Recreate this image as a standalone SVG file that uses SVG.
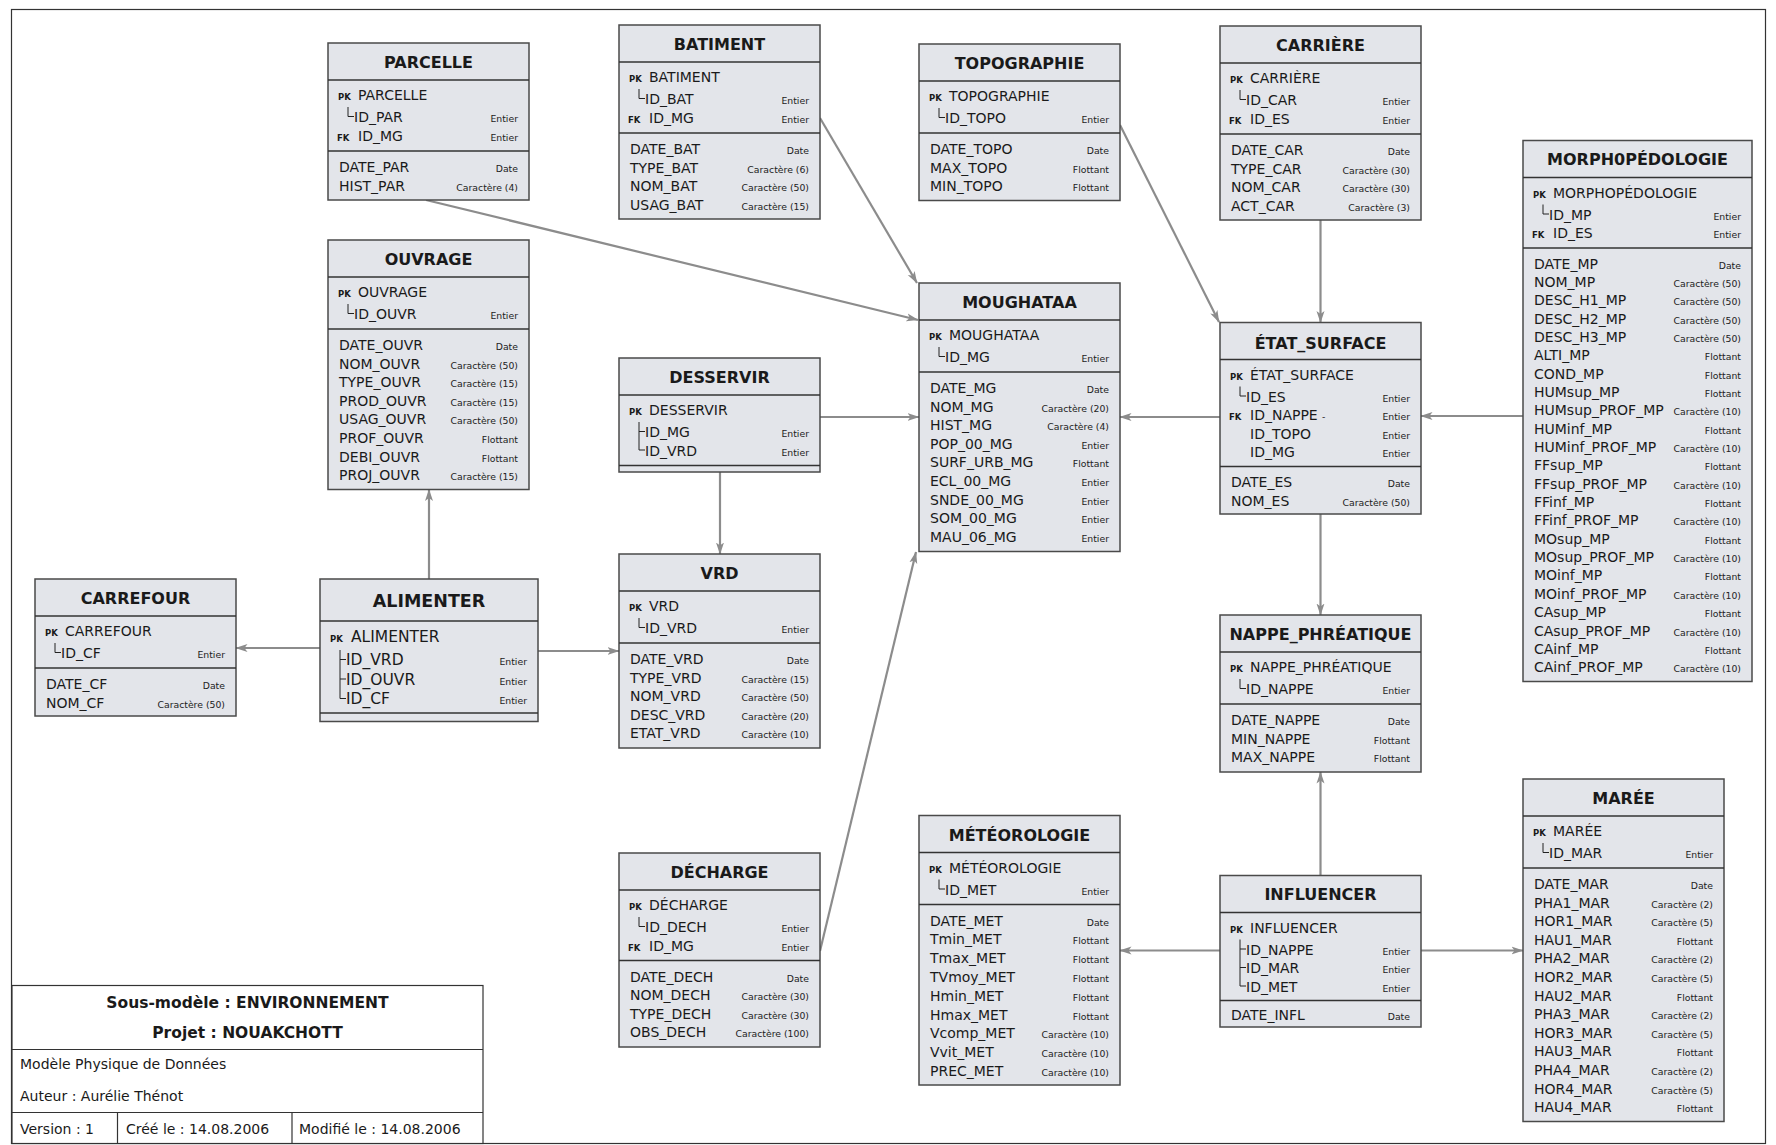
<svg xmlns="http://www.w3.org/2000/svg" width="1776" height="1145" viewBox="0 0 1776 1145">
<defs>
<style>
.bx{fill:#e3e5ea;stroke:#4a4a4a;stroke-width:1.5}
.sp{stroke:#333;stroke-width:1.5}
.tr{stroke:#222;stroke-width:1;fill:none}
text{font-family:"DejaVu Sans","Liberation Sans",sans-serif;fill:#1a1a1a}
.ti{font-size:16px;font-weight:bold;text-anchor:middle}
.nm{font-size:14px}
.ty{font-size:9.3px;text-anchor:end;fill:#222}
.pk{font-size:8.5px;font-weight:bold}
.big{font-size:15.5px}
.tb{font-size:14px}
.tbb{font-size:15.5px;font-weight:bold;text-anchor:middle}
.c{stroke:#8c8c8c;stroke-width:2.2;fill:none;marker-end:url(#arr)}
.fr{fill:none;stroke:#333;stroke-width:1.2}
</style>
<marker id="arr" viewBox="0 0 12 10" refX="11.5" refY="5" markerWidth="12" markerHeight="10" markerUnits="userSpaceOnUse" orient="auto">
<path d="M0,1 L12,5 L0,9 L3,5 Z" fill="#8c8c8c"/>
</marker>
</defs>
<rect x="0" y="0" width="1776" height="1145" fill="#fff"/>
<rect class="fr" x="11.5" y="9.5" width="1754" height="1134"/>

<g id="connectors">
<line class="c" x1="426" y1="200" x2="918" y2="320"/>
<line class="c" x1="820" y1="118" x2="917" y2="283"/>
<line class="c" x1="1120" y1="125" x2="1219" y2="322"/>
<line class="c" x1="1320.5" y1="220" x2="1320.5" y2="322.5"/>
<line class="c" x1="1220" y1="417" x2="1120" y2="417"/>
<line class="c" x1="1523" y1="416" x2="1421" y2="416"/>
<line class="c" x1="820" y1="417" x2="919" y2="417"/>
<line class="c" x1="720" y1="472" x2="720" y2="554"/>
<line class="c" x1="429" y1="579" x2="429" y2="489.5"/>
<line class="c" x1="320" y1="648" x2="236" y2="648"/>
<line class="c" x1="538" y1="651" x2="619" y2="651"/>
<line class="c" x1="820" y1="951" x2="916" y2="552"/>
<line class="c" x1="1320.5" y1="514" x2="1320.5" y2="615"/>
<line class="c" x1="1320.5" y1="875.5" x2="1320.5" y2="772"/>
<line class="c" x1="1220" y1="950.5" x2="1120" y2="950.5"/>
<line class="c" x1="1421" y1="950.5" x2="1523" y2="950.5"/>
</g>

<g id="parcelle">
<rect class="bx" x="328" y="43" width="201" height="157"/>
<line class="sp" x1="328" y1="80" x2="529" y2="80"/>
<line class="sp" x1="328" y1="151" x2="529" y2="151"/>
<text class="ti" x="428.5" y="67.5">PARCELLE</text>
<text class="pk" x="338" y="100">PK</text><text class="nm" x="358" y="100">PARCELLE</text>
<path class="tr" d="M348,107 V116.5 H354"/>
<text class="nm" x="354" y="122">ID_PAR</text><text class="ty" x="518" y="122">Entier</text>
<text class="pk" x="337" y="141">FK</text><text class="nm" x="358" y="141">ID_MG</text><text class="ty" x="518" y="141">Entier</text>
<text class="nm" x="339" y="172">DATE_PAR</text><text class="ty" x="518" y="172">Date</text>
<text class="nm" x="339" y="190.5">HIST_PAR</text><text class="ty" x="518" y="190.5">Caractère (4)</text>
</g>

<g id="batiment">
<rect class="bx" x="619" y="25" width="201" height="194"/>
<line class="sp" x1="619" y1="62" x2="820" y2="62"/>
<line class="sp" x1="619" y1="133" x2="820" y2="133"/>
<text class="ti" x="719.5" y="49.5">BATIMENT</text>
<text class="pk" x="629" y="82">PK</text><text class="nm" x="649" y="82">BATIMENT</text>
<path class="tr" d="M639,89 V98.5 H645"/>
<text class="nm" x="645" y="104">ID_BAT</text><text class="ty" x="809" y="104">Entier</text>
<text class="pk" x="628" y="123">FK</text><text class="nm" x="649" y="123">ID_MG</text><text class="ty" x="809" y="123">Entier</text>
<text class="nm" x="630" y="154">DATE_BAT</text><text class="ty" x="809" y="154">Date</text>
<text class="nm" x="630" y="172.5">TYPE_BAT</text><text class="ty" x="809" y="172.5">Caractère (6)</text>
<text class="nm" x="630" y="191">NOM_BAT</text><text class="ty" x="809" y="191">Caractère (50)</text>
<text class="nm" x="630" y="209.5">USAG_BAT</text><text class="ty" x="809" y="209.5">Caractère (15)</text>
</g>

<g id="topographie">
<rect class="bx" x="919" y="44" width="201" height="156.5"/>
<line class="sp" x1="919" y1="81" x2="1120" y2="81"/>
<line class="sp" x1="919" y1="133" x2="1120" y2="133"/>
<text class="ti" x="1019.5" y="68.5">TOPOGRAPHIE</text>
<text class="pk" x="929" y="101">PK</text><text class="nm" x="949" y="101">TOPOGRAPHIE</text>
<path class="tr" d="M939,108 V117.5 H945"/>
<text class="nm" x="945" y="123">ID_TOPO</text><text class="ty" x="1109" y="123">Entier</text>
<text class="nm" x="930" y="154">DATE_TOPO</text><text class="ty" x="1109" y="154">Date</text>
<text class="nm" x="930" y="172.5">MAX_TOPO</text><text class="ty" x="1109" y="172.5">Flottant</text>
<text class="nm" x="930" y="191">MIN_TOPO</text><text class="ty" x="1109" y="191">Flottant</text>
</g>

<g id="carriere">
<rect class="bx" x="1220" y="26" width="201" height="194"/>
<line class="sp" x1="1220" y1="63" x2="1421" y2="63"/>
<line class="sp" x1="1220" y1="134" x2="1421" y2="134"/>
<text class="ti" x="1320.5" y="51">CARRIÈRE</text>
<text class="pk" x="1230" y="83">PK</text><text class="nm" x="1250" y="83">CARRIÈRE</text>
<path class="tr" d="M1240,90 V99.5 H1246"/>
<text class="nm" x="1246" y="105">ID_CAR</text><text class="ty" x="1410" y="105">Entier</text>
<text class="pk" x="1229" y="124">FK</text><text class="nm" x="1250" y="124">ID_ES</text><text class="ty" x="1410" y="124">Entier</text>
<text class="nm" x="1231" y="155">DATE_CAR</text><text class="ty" x="1410" y="155">Date</text>
<text class="nm" x="1231" y="173.5">TYPE_CAR</text><text class="ty" x="1410" y="173.5">Caractère (30)</text>
<text class="nm" x="1231" y="192">NOM_CAR</text><text class="ty" x="1410" y="192">Caractère (30)</text>
<text class="nm" x="1231" y="210.5">ACT_CAR</text><text class="ty" x="1410" y="210.5">Caractère (3)</text>
</g>

<g id="ouvrage">
<rect class="bx" x="328" y="240" width="201" height="249.5"/>
<line class="sp" x1="328" y1="277" x2="529" y2="277"/>
<line class="sp" x1="328" y1="329" x2="529" y2="329"/>
<text class="ti" x="428.5" y="264.5">OUVRAGE</text>
<text class="pk" x="338" y="297">PK</text><text class="nm" x="358" y="297">OUVRAGE</text>
<path class="tr" d="M348,304 V313.5 H354"/>
<text class="nm" x="354" y="319">ID_OUVR</text><text class="ty" x="518" y="319">Entier</text>
<text class="nm" x="339" y="350">DATE_OUVR</text><text class="ty" x="518" y="350">Date</text>
<text class="nm" x="339" y="368.6">NOM_OUVR</text><text class="ty" x="518" y="368.6">Caractère (50)</text>
<text class="nm" x="339" y="387.2">TYPE_OUVR</text><text class="ty" x="518" y="387.2">Caractère (15)</text>
<text class="nm" x="339" y="405.8">PROD_OUVR</text><text class="ty" x="518" y="405.8">Caractère (15)</text>
<text class="nm" x="339" y="424.4">USAG_OUVR</text><text class="ty" x="518" y="424.4">Caractère (50)</text>
<text class="nm" x="339" y="443">PROF_OUVR</text><text class="ty" x="518" y="443">Flottant</text>
<text class="nm" x="339" y="461.6">DEBI_OUVR</text><text class="ty" x="518" y="461.6">Flottant</text>
<text class="nm" x="339" y="480.2">PROJ_OUVR</text><text class="ty" x="518" y="480.2">Caractère (15)</text>
</g>

<g id="desservir">
<rect class="bx" x="619" y="358" width="201" height="114"/>
<line class="sp" x1="619" y1="395" x2="820" y2="395"/>
<line class="sp" x1="619" y1="465.5" x2="820" y2="465.5"/>
<text class="ti" x="719.5" y="382.5">DESSERVIR</text>
<text class="pk" x="629" y="415">PK</text><text class="nm" x="649" y="415">DESSERVIR</text>
<path class="tr" d="M639,422 V450 H645 M639,431.5 H645"/>
<text class="nm" x="645" y="437">ID_MG</text><text class="ty" x="809" y="437">Entier</text>
<text class="nm" x="645" y="455.5">ID_VRD</text><text class="ty" x="809" y="455.5">Entier</text>
</g>

<g id="moughataa">
<rect class="bx" x="919" y="283" width="201" height="268.5"/>
<line class="sp" x1="919" y1="320" x2="1120" y2="320"/>
<line class="sp" x1="919" y1="372" x2="1120" y2="372"/>
<text class="ti" x="1019.5" y="307.5">MOUGHATAA</text>
<text class="pk" x="929" y="340">PK</text><text class="nm" x="949" y="340">MOUGHATAA</text>
<path class="tr" d="M939,347 V356.5 H945"/>
<text class="nm" x="945" y="362">ID_MG</text><text class="ty" x="1109" y="362">Entier</text>
<text class="nm" x="930" y="393">DATE_MG</text><text class="ty" x="1109" y="393">Date</text>
<text class="nm" x="930" y="411.6">NOM_MG</text><text class="ty" x="1109" y="411.6">Caractère (20)</text>
<text class="nm" x="930" y="430.2">HIST_MG</text><text class="ty" x="1109" y="430.2">Caractère (4)</text>
<text class="nm" x="930" y="448.8">POP_00_MG</text><text class="ty" x="1109" y="448.8">Entier</text>
<text class="nm" x="930" y="467.4">SURF_URB_MG</text><text class="ty" x="1109" y="467.4">Flottant</text>
<text class="nm" x="930" y="486">ECL_00_MG</text><text class="ty" x="1109" y="486">Entier</text>
<text class="nm" x="930" y="504.6">SNDE_00_MG</text><text class="ty" x="1109" y="504.6">Entier</text>
<text class="nm" x="930" y="523.2">SOM_00_MG</text><text class="ty" x="1109" y="523.2">Entier</text>
<text class="nm" x="930" y="541.8">MAU_06_MG</text><text class="ty" x="1109" y="541.8">Entier</text>
</g>

<g id="etat_surface">
<rect class="bx" x="1220" y="322.5" width="201" height="191.5"/>
<line class="sp" x1="1220" y1="359.5" x2="1421" y2="359.5"/>
<line class="sp" x1="1220" y1="466.5" x2="1421" y2="466.5"/>
<text class="ti" x="1320.5" y="349">ÉTAT_SURFACE</text>
<text class="pk" x="1230" y="379.5">PK</text><text class="nm" x="1250" y="379.5">ÉTAT_SURFACE</text>
<path class="tr" d="M1240,386.5 V396 H1246"/>
<text class="nm" x="1246" y="401.5">ID_ES</text><text class="ty" x="1410" y="401.5">Entier</text>
<text class="pk" x="1229" y="420">FK</text><text class="nm" x="1250" y="420">ID_NAPPE</text><text class="ty" x="1322" y="420" style="text-anchor:start">-</text><text class="ty" x="1410" y="420">Entier</text>
<text class="nm" x="1250" y="438.5">ID_TOPO</text><text class="ty" x="1410" y="438.5">Entier</text>
<text class="nm" x="1250" y="457">ID_MG</text><text class="ty" x="1410" y="457">Entier</text>
<text class="nm" x="1231" y="487">DATE_ES</text><text class="ty" x="1410" y="487">Date</text>
<text class="nm" x="1231" y="505.5">NOM_ES</text><text class="ty" x="1410" y="505.5">Caractère (50)</text>
</g>

<g id="morphopedologie">
<rect class="bx" x="1523" y="140.5" width="229" height="541"/>
<line class="sp" x1="1523" y1="177.5" x2="1752" y2="177.5"/>
<line class="sp" x1="1523" y1="248" x2="1752" y2="248"/>
<text class="ti" x="1637.5" y="165">MORPH0PÉDOLOGIE</text>
<text class="pk" x="1533" y="197.5">PK</text><text class="nm" x="1553" y="197.5">MORPHOPÉDOLOGIE</text>
<path class="tr" d="M1543,204.5 V214 H1549"/>
<text class="nm" x="1549" y="219.5">ID_MP</text><text class="ty" x="1741" y="219.5">Entier</text>
<text class="pk" x="1532" y="238">FK</text><text class="nm" x="1553" y="238">ID_ES</text><text class="ty" x="1741" y="238">Entier</text>
<text class="nm" x="1534" y="268.5">DATE_MP</text><text class="ty" x="1741" y="268.5">Date</text>
<text class="nm" x="1534" y="286.85">NOM_MP</text><text class="ty" x="1741" y="286.85">Caractère (50)</text>
<text class="nm" x="1534" y="305.2">DESC_H1_MP</text><text class="ty" x="1741" y="305.2">Caractère (50)</text>
<text class="nm" x="1534" y="323.55">DESC_H2_MP</text><text class="ty" x="1741" y="323.55">Caractère (50)</text>
<text class="nm" x="1534" y="341.9">DESC_H3_MP</text><text class="ty" x="1741" y="341.9">Caractère (50)</text>
<text class="nm" x="1534" y="360.25">ALTI_MP</text><text class="ty" x="1741" y="360.25">Flottant</text>
<text class="nm" x="1534" y="378.6">COND_MP</text><text class="ty" x="1741" y="378.6">Flottant</text>
<text class="nm" x="1534" y="396.95">HUMsup_MP</text><text class="ty" x="1741" y="396.95">Flottant</text>
<text class="nm" x="1534" y="415.3">HUMsup_PROF_MP</text><text class="ty" x="1741" y="415.3">Caractère (10)</text>
<text class="nm" x="1534" y="433.65">HUMinf_MP</text><text class="ty" x="1741" y="433.65">Flottant</text>
<text class="nm" x="1534" y="452">HUMinf_PROF_MP</text><text class="ty" x="1741" y="452">Caractère (10)</text>
<text class="nm" x="1534" y="470.35">FFsup_MP</text><text class="ty" x="1741" y="470.35">Flottant</text>
<text class="nm" x="1534" y="488.7">FFsup_PROF_MP</text><text class="ty" x="1741" y="488.7">Caractère (10)</text>
<text class="nm" x="1534" y="507.05">FFinf_MP</text><text class="ty" x="1741" y="507.05">Flottant</text>
<text class="nm" x="1534" y="525.4">FFinf_PROF_MP</text><text class="ty" x="1741" y="525.4">Caractère (10)</text>
<text class="nm" x="1534" y="543.75">MOsup_MP</text><text class="ty" x="1741" y="543.75">Flottant</text>
<text class="nm" x="1534" y="562.1">MOsup_PROF_MP</text><text class="ty" x="1741" y="562.1">Caractère (10)</text>
<text class="nm" x="1534" y="580.45">MOinf_MP</text><text class="ty" x="1741" y="580.45">Flottant</text>
<text class="nm" x="1534" y="598.8">MOinf_PROF_MP</text><text class="ty" x="1741" y="598.8">Caractère (10)</text>
<text class="nm" x="1534" y="617.15">CAsup_MP</text><text class="ty" x="1741" y="617.15">Flottant</text>
<text class="nm" x="1534" y="635.5">CAsup_PROF_MP</text><text class="ty" x="1741" y="635.5">Caractère (10)</text>
<text class="nm" x="1534" y="653.85">CAinf_MP</text><text class="ty" x="1741" y="653.85">Flottant</text>
<text class="nm" x="1534" y="672.2">CAinf_PROF_MP</text><text class="ty" x="1741" y="672.2">Caractère (10)</text>
</g>

<g id="carrefour">
<rect class="bx" x="35" y="579" width="201" height="137"/>
<line class="sp" x1="35" y1="616" x2="236" y2="616"/>
<line class="sp" x1="35" y1="668" x2="236" y2="668"/>
<text class="ti" x="135.5" y="603.5">CARREFOUR</text>
<text class="pk" x="45" y="636">PK</text><text class="nm" x="65" y="636">CARREFOUR</text>
<path class="tr" d="M55,643 V652.5 H61"/>
<text class="nm" x="61" y="658">ID_CF</text><text class="ty" x="225" y="658">Entier</text>
<text class="nm" x="46" y="689">DATE_CF</text><text class="ty" x="225" y="689">Date</text>
<text class="nm" x="46" y="707.5">NOM_CF</text><text class="ty" x="225" y="707.5">Caractère (50)</text>
</g>

<g id="alimenter">
<rect class="bx" x="320" y="579" width="218" height="142.5"/>
<line class="sp" x1="320" y1="621" x2="538" y2="621"/>
<line class="sp" x1="320" y1="713" x2="538" y2="713"/>
<text class="ti" x="429" y="606.5" style="font-size:17.5px">ALIMENTER</text>
<text class="pk" x="330" y="642">PK</text><text class="nm big" x="351" y="642">ALIMENTER</text>
<path class="tr" d="M340,650 V698.5 H346 M340,659.5 H346 M340,679 H346"/>
<text class="nm big" x="346" y="665">ID_VRD</text><text class="ty" x="527" y="665">Entier</text>
<text class="nm big" x="346" y="684.5">ID_OUVR</text><text class="ty" x="527" y="684.5">Entier</text>
<text class="nm big" x="346" y="704">ID_CF</text><text class="ty" x="527" y="704">Entier</text>
</g>

<g id="vrd">
<rect class="bx" x="619" y="554" width="201" height="194"/>
<line class="sp" x1="619" y1="591" x2="820" y2="591"/>
<line class="sp" x1="619" y1="643" x2="820" y2="643"/>
<text class="ti" x="719.5" y="578.5">VRD</text>
<text class="pk" x="629" y="611">PK</text><text class="nm" x="649" y="611">VRD</text>
<path class="tr" d="M639,618 V627.5 H645"/>
<text class="nm" x="645" y="633">ID_VRD</text><text class="ty" x="809" y="633">Entier</text>
<text class="nm" x="630" y="664">DATE_VRD</text><text class="ty" x="809" y="664">Date</text>
<text class="nm" x="630" y="682.6">TYPE_VRD</text><text class="ty" x="809" y="682.6">Caractère (15)</text>
<text class="nm" x="630" y="701.2">NOM_VRD</text><text class="ty" x="809" y="701.2">Caractère (50)</text>
<text class="nm" x="630" y="719.8">DESC_VRD</text><text class="ty" x="809" y="719.8">Caractère (20)</text>
<text class="nm" x="630" y="738.4">ETAT_VRD</text><text class="ty" x="809" y="738.4">Caractère (10)</text>
</g>

<g id="nappe_phreatique">
<rect class="bx" x="1220" y="615" width="201" height="157"/>
<line class="sp" x1="1220" y1="652" x2="1421" y2="652"/>
<line class="sp" x1="1220" y1="704" x2="1421" y2="704"/>
<text class="ti" x="1320.5" y="640">NAPPE_PHRÉATIQUE</text>
<text class="pk" x="1230" y="672">PK</text><text class="nm" x="1250" y="672">NAPPE_PHRÉATIQUE</text>
<path class="tr" d="M1240,679 V688.5 H1246"/>
<text class="nm" x="1246" y="694">ID_NAPPE</text><text class="ty" x="1410" y="694">Entier</text>
<text class="nm" x="1231" y="725">DATE_NAPPE</text><text class="ty" x="1410" y="725">Date</text>
<text class="nm" x="1231" y="743.6">MIN_NAPPE</text><text class="ty" x="1410" y="743.6">Flottant</text>
<text class="nm" x="1231" y="762.2">MAX_NAPPE</text><text class="ty" x="1410" y="762.2">Flottant</text>
</g>

<g id="decharge">
<rect class="bx" x="619" y="853" width="201" height="194"/>
<line class="sp" x1="619" y1="890" x2="820" y2="890"/>
<line class="sp" x1="619" y1="960.5" x2="820" y2="960.5"/>
<text class="ti" x="719.5" y="878">DÉCHARGE</text>
<text class="pk" x="629" y="910">PK</text><text class="nm" x="649" y="910">DÉCHARGE</text>
<path class="tr" d="M639,917 V926.5 H645"/>
<text class="nm" x="645" y="932">ID_DECH</text><text class="ty" x="809" y="932">Entier</text>
<text class="pk" x="628" y="950.5">FK</text><text class="nm" x="649" y="950.5">ID_MG</text><text class="ty" x="809" y="950.5">Entier</text>
<text class="nm" x="630" y="981.5">DATE_DECH</text><text class="ty" x="809" y="981.5">Date</text>
<text class="nm" x="630" y="1000">NOM_DECH</text><text class="ty" x="809" y="1000">Caractère (30)</text>
<text class="nm" x="630" y="1018.5">TYPE_DECH</text><text class="ty" x="809" y="1018.5">Caractère (30)</text>
<text class="nm" x="630" y="1037">OBS_DECH</text><text class="ty" x="809" y="1037">Caractère (100)</text>
</g>

<g id="meteorologie">
<rect class="bx" x="919" y="815.5" width="201" height="269.5"/>
<line class="sp" x1="919" y1="852.5" x2="1120" y2="852.5"/>
<line class="sp" x1="919" y1="904.5" x2="1120" y2="904.5"/>
<text class="ti" x="1019.5" y="840.5">MÉTÉOROLOGIE</text>
<text class="pk" x="929" y="872.5">PK</text><text class="nm" x="949" y="872.5">MÉTÉOROLOGIE</text>
<path class="tr" d="M939,879.5 V889 H945"/>
<text class="nm" x="945" y="894.5">ID_MET</text><text class="ty" x="1109" y="894.5">Entier</text>
<text class="nm" x="930" y="925.5">DATE_MET</text><text class="ty" x="1109" y="925.5">Date</text>
<text class="nm" x="930" y="944.3">Tmin_MET</text><text class="ty" x="1109" y="944.3">Flottant</text>
<text class="nm" x="930" y="963.1">Tmax_MET</text><text class="ty" x="1109" y="963.1">Flottant</text>
<text class="nm" x="930" y="981.9">TVmoy_MET</text><text class="ty" x="1109" y="981.9">Flottant</text>
<text class="nm" x="930" y="1000.7">Hmin_MET</text><text class="ty" x="1109" y="1000.7">Flottant</text>
<text class="nm" x="930" y="1019.5">Hmax_MET</text><text class="ty" x="1109" y="1019.5">Flottant</text>
<text class="nm" x="930" y="1038.3">Vcomp_MET</text><text class="ty" x="1109" y="1038.3">Caractère (10)</text>
<text class="nm" x="930" y="1057.1">Vvit_MET</text><text class="ty" x="1109" y="1057.1">Caractère (10)</text>
<text class="nm" x="930" y="1075.9">PREC_MET</text><text class="ty" x="1109" y="1075.9">Caractère (10)</text>
</g>

<g id="influencer">
<rect class="bx" x="1220" y="875.5" width="201" height="151.5"/>
<line class="sp" x1="1220" y1="912.5" x2="1421" y2="912.5"/>
<line class="sp" x1="1220" y1="1000.5" x2="1421" y2="1000.5"/>
<text class="ti" x="1320.5" y="900">INFLUENCER</text>
<text class="pk" x="1230" y="932.5">PK</text><text class="nm" x="1250" y="932.5">INFLUENCER</text>
<path class="tr" d="M1240,939.5 V986 H1246 M1240,949 H1246 M1240,967.5 H1246"/>
<text class="nm" x="1246" y="954.5">ID_NAPPE</text><text class="ty" x="1410" y="954.5">Entier</text>
<text class="nm" x="1246" y="973">ID_MAR</text><text class="ty" x="1410" y="973">Entier</text>
<text class="nm" x="1246" y="991.5">ID_MET</text><text class="ty" x="1410" y="991.5">Entier</text>
<text class="nm" x="1231" y="1020">DATE_INFL</text><text class="ty" x="1410" y="1020">Date</text>
</g>

<g id="maree">
<rect class="bx" x="1523" y="779" width="201" height="342.5"/>
<line class="sp" x1="1523" y1="816" x2="1724" y2="816"/>
<line class="sp" x1="1523" y1="868" x2="1724" y2="868"/>
<text class="ti" x="1623.5" y="804">MARÉE</text>
<text class="pk" x="1533" y="836">PK</text><text class="nm" x="1553" y="836">MARÉE</text>
<path class="tr" d="M1543,843 V852.5 H1549"/>
<text class="nm" x="1549" y="858">ID_MAR</text><text class="ty" x="1713" y="858">Entier</text>
<text class="nm" x="1534" y="889">DATE_MAR</text><text class="ty" x="1713" y="889">Date</text>
<text class="nm" x="1534" y="907.6">PHA1_MAR</text><text class="ty" x="1713" y="907.6">Caractère (2)</text>
<text class="nm" x="1534" y="926.2">HOR1_MAR</text><text class="ty" x="1713" y="926.2">Caractère (5)</text>
<text class="nm" x="1534" y="944.8">HAU1_MAR</text><text class="ty" x="1713" y="944.8">Flottant</text>
<text class="nm" x="1534" y="963.4">PHA2_MAR</text><text class="ty" x="1713" y="963.4">Caractère (2)</text>
<text class="nm" x="1534" y="982">HOR2_MAR</text><text class="ty" x="1713" y="982">Caractère (5)</text>
<text class="nm" x="1534" y="1000.6">HAU2_MAR</text><text class="ty" x="1713" y="1000.6">Flottant</text>
<text class="nm" x="1534" y="1019.2">PHA3_MAR</text><text class="ty" x="1713" y="1019.2">Caractère (2)</text>
<text class="nm" x="1534" y="1037.8">HOR3_MAR</text><text class="ty" x="1713" y="1037.8">Caractère (5)</text>
<text class="nm" x="1534" y="1056.4">HAU3_MAR</text><text class="ty" x="1713" y="1056.4">Flottant</text>
<text class="nm" x="1534" y="1075">PHA4_MAR</text><text class="ty" x="1713" y="1075">Caractère (2)</text>
<text class="nm" x="1534" y="1093.6">HOR4_MAR</text><text class="ty" x="1713" y="1093.6">Caractère (5)</text>
<text class="nm" x="1534" y="1112.2">HAU4_MAR</text><text class="ty" x="1713" y="1112.2">Flottant</text>
</g>

<g id="title_block">
<rect x="12" y="985.5" width="471" height="158" fill="#fff" stroke="#333" stroke-width="1.2"/>
<line x1="12" y1="1049.5" x2="483" y2="1049.5" stroke="#333" stroke-width="1.2"/>
<line x1="12" y1="1112.5" x2="483" y2="1112.5" stroke="#333" stroke-width="1.2"/>
<line x1="117.5" y1="1112.5" x2="117.5" y2="1143.5" stroke="#333" stroke-width="1.2"/>
<line x1="292" y1="1112.5" x2="292" y2="1143.5" stroke="#333" stroke-width="1.2"/>
<text class="tbb" x="247.5" y="1008">Sous-modèle : ENVIRONNEMENT</text>
<text class="tbb" x="247.5" y="1038">Projet : NOUAKCHOTT</text>
<text class="tb" x="20" y="1069">Modèle Physique de Données</text>
<text class="tb" x="20" y="1101">Auteur : Aurélie Thénot</text>
<text class="tb" x="20" y="1134">Version : 1</text>
<text class="tb" x="126" y="1134">Créé le : 14.08.2006</text>
<text class="tb" x="299" y="1134">Modifié le : 14.08.2006</text>
</g>
</svg>
